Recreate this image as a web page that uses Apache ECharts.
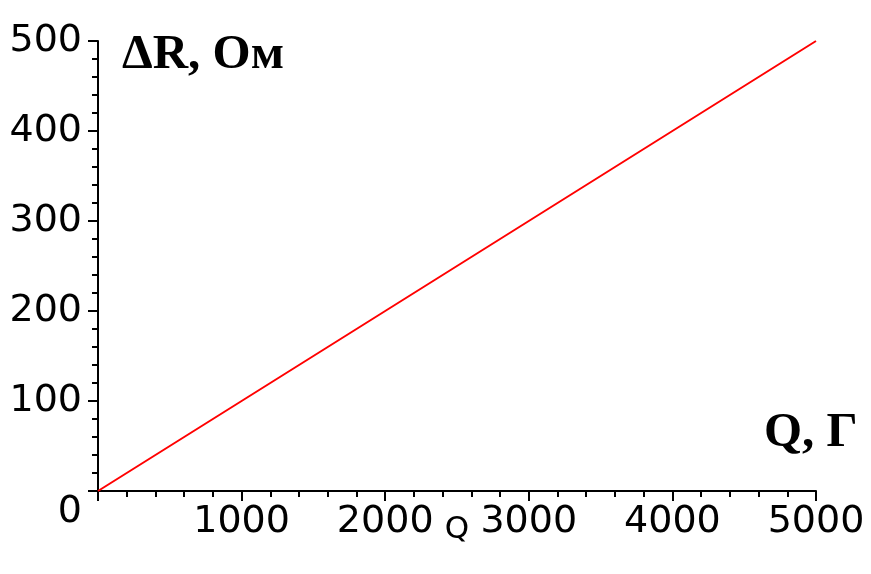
<!DOCTYPE html>
<html>
<head>
<meta charset="utf-8">
<script src="https://cdn.jsdelivr.net/npm/echarts@6/dist/echarts.min.js"></script>
<style>html,body{margin:0;padding:0;background:#fff;}#c{width:871px;height:574px;}</style>
</head>
<body>
<div id="c"></div>
<script>
// Data
const qValues = [0, 1000, 2000, 3000, 4000, 5000];
const dRValues = [0, 100, 200, 300, 400, 500];
const xTicks = [0, 1000, 2000, 3000, 4000, 5000];
const yTicks = [0, 100, 200, 300, 400, 500];
const yTitle = 'ΔR, Ом';
const xTitle = 'Q, Г';
const xAxisName = 'Q';

const points = qValues.map((q, i) => [q, dRValues[i]]);

const chart = echarts.init(document.getElementById('c'), null, {renderer: 'canvas'});
const axisFont = 'DejaVu Sans';
chart.setOption({
  animation: false,
  backgroundColor: '#fff',
  title: [
    {text: yTitle, left: 117, top: 26,
     textStyle: {fontFamily: 'Liberation Serif', fontWeight: 'bold', fontSize: 49, color: '#000'}},
    {text: xTitle, left: 759, top: 404,
     textStyle: {fontFamily: 'Liberation Serif', fontWeight: 'bold', fontSize: 49, color: '#000'}}
  ],
  grid: {left: 98, right: 55, top: 41, bottom: 83, containLabel: false},
  xAxis: {
    type: 'value', min: xTicks[0], max: xTicks[xTicks.length - 1], interval: 1000,
    name: xAxisName, nameLocation: 'middle', nameGap: 23, nameMoveOverlap: false,
    nameTextStyle: {fontFamily: axisFont, fontSize: 31, color: '#000', verticalAlign: 'top'},
    axisLine: {show: true, onZero: false, lineStyle: {color: '#000', width: 2}},
    axisTick: {show: true, length: 10, lineStyle: {color: '#000', width: 2}},
    minorTick: {show: true, splitNumber: 5, length: 6, lineStyle: {color: '#000', width: 2}},
    splitLine: {show: false},
    axisLabel: {fontFamily: axisFont, fontSize: 38, color: '#000', margin: 12,
      formatter: v => v === 0 ? '' : String(v)}
  },
  yAxis: {
    type: 'value', min: yTicks[0], max: yTicks[yTicks.length - 1], interval: 100,
    axisLine: {show: true, onZero: false, lineStyle: {color: '#000', width: 2}},
    axisTick: {show: true, length: 10, lineStyle: {color: '#000', width: 2}},
    minorTick: {show: true, splitNumber: 5, length: 6, lineStyle: {color: '#000', width: 2}},
    splitLine: {show: false},
    axisLabel: {fontFamily: axisFont, fontSize: 38, color: '#000', margin: 16,
      formatter: v => v === 0 ? '{z|0}' : String(v),
      rich: {z: {fontFamily: axisFont, fontSize: 38, color: '#000', padding: [42, 0, 0, 0]}}}
  },
  series: [{
    type: 'line', data: points, showSymbol: false, symbol: 'none',
    lineStyle: {color: '#ff0000', width: 2}
  }]
});
</script>
</body>
</html>
